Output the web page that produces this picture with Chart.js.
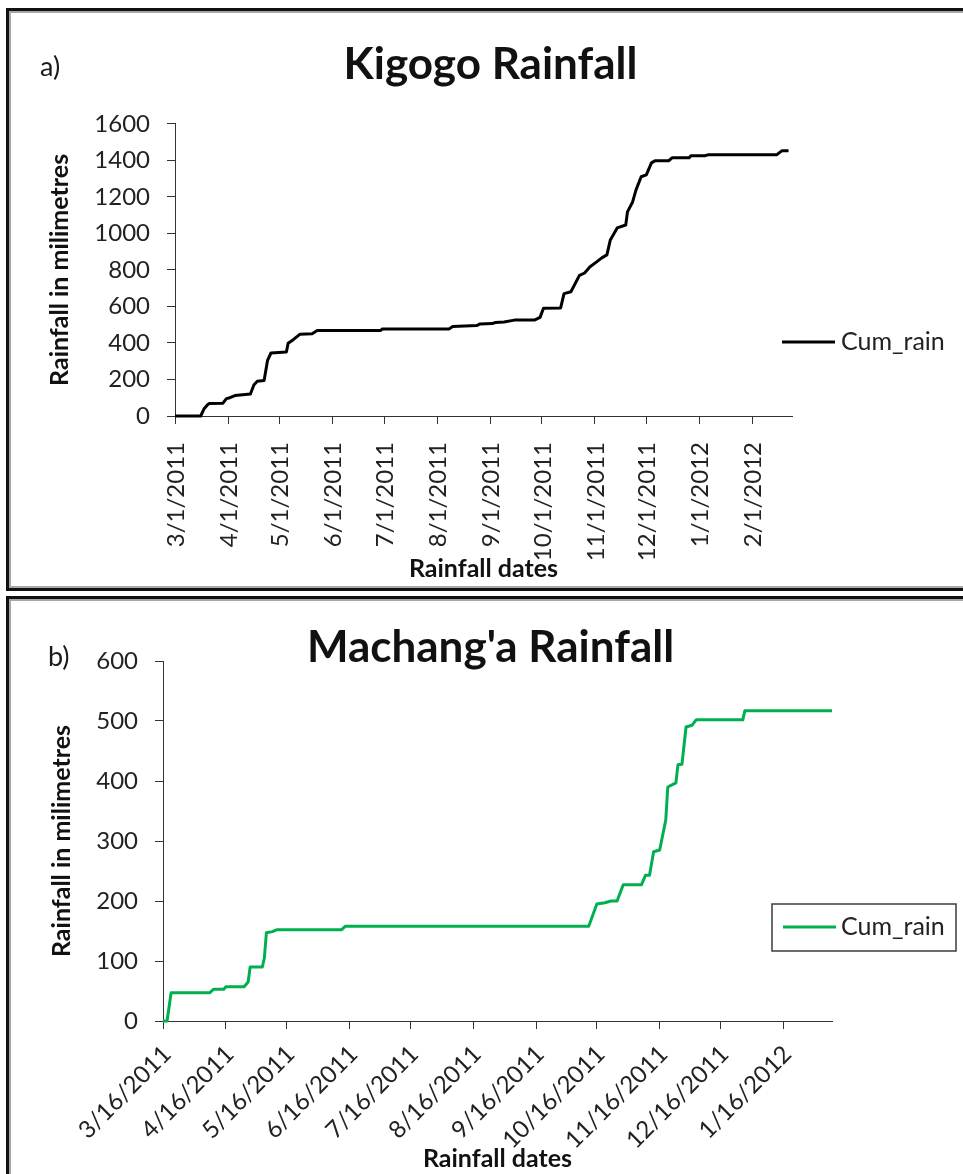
<!DOCTYPE html>
<html>
<head>
<meta charset="utf-8">
<script src="https://cdn.jsdelivr.net/npm/chart.js@4.4.1/dist/chart.umd.min.js"></script>
<style>
  html, body { margin: 0; padding: 0; background: #fff; overflow: hidden; width: 963px; height: 1174px; }
  .panel { position: absolute; left: 6px; width: 1000px; box-sizing: border-box;
           border: 3px solid #111; box-shadow: inset 0 0 0 2px #a8a8a8; background: #fff; }
  #panelA { top: 8px; height: 583px; }
  #panelB { top: 596px; height: 700px; }
  canvas { position: absolute; }
  #chartA { left: 12px; top: 14px; }
  #chartB { left: 12px; top: 603px; }
</style>
</head>
<body>
<div class="panel" id="panelA"></div>
<div class="panel" id="panelB"></div>
<canvas id="chartA" width="951" height="572"></canvas>
<canvas id="chartB" width="951" height="571"></canvas>
<script>
// ---- Kigogo station: cumulative rainfall, days counted from 3/1/2011 ----
const kigogoStart = '3/1/2011';
const kigogoEnd = '2/24/2012';
const kigogoDays = [0, 15, 17, 19, 20, 28, 30, 32, 35, 44, 46, 48, 52, 54, 56, 65, 66, 69, 73, 80,
  83, 120, 121, 160, 162, 176, 178, 185, 187, 192, 198, 210, 213, 215, 225, 227, 231, 236, 239, 242,
  246, 249, 252, 254, 258, 263, 264, 267, 269, 272, 275, 278, 280, 288, 290, 300, 301, 309, 311, 351,
  354, 358];
const kigogoRain = [0, 0, 40, 62, 68, 70, 95, 100, 112, 120, 170, 190, 195, 305, 345, 350, 398, 418, 448, 450,
  468, 468, 477, 477, 490, 495, 504, 506, 512, 515, 525, 526, 540, 590, 592, 670, 680, 770, 783, 816,
  844, 866, 882, 964, 1030, 1046, 1118, 1172, 1238, 1310, 1320, 1386, 1397, 1397, 1414, 1414, 1425, 1425, 1430, 1430,
  1452, 1452];
const kigogoTickLabels = ['3/1/2011', '4/1/2011', '5/1/2011', '6/1/2011', '7/1/2011', '8/1/2011',
  '9/1/2011', '10/1/2011', '11/1/2011', '12/1/2011', '1/1/2012', '2/1/2012'];
const kigogoYTicks = [0, 1600, 200];

// ---- Machang'a station: cumulative rainfall, days counted from 3/16/2011 ----
const machangaStart = '3/16/2011';
const machangaEnd = '2/9/2012';
const machangaDays = [0, 2, 4, 23, 25, 30, 31, 40, 42, 43, 49, 50, 51, 54, 56, 88, 90, 210, 214, 218,
  221, 224, 227, 236, 238, 240, 242, 245, 248, 249, 253, 254, 256, 258, 261, 263, 286, 287, 330];
const machangaRain = [0, 0, 47, 47, 53, 53, 57, 57, 65, 90, 90, 105, 147, 149, 152, 152, 158, 158, 195, 197,
  200, 200, 227, 227, 243, 243, 282, 285, 335, 390, 397, 427, 428, 490, 493, 502, 502, 517, 517];
const machangaTickLabels = ['3/16/2011', '4/16/2011', '5/16/2011', '6/16/2011', '7/16/2011', '8/16/2011',
  '9/16/2011', '10/16/2011', '11/16/2011', '12/16/2011', '1/16/2012'];
const machangaYTicks = [0, 600, 100];

const seriesName = 'Cum_rain';

function toUTC(label) {
  const [m, d, y] = label.split('/').map(Number);
  return Date.UTC(y, m - 1, d);
}
function daysBetween(start, label) {
  return Math.round((toUTC(label) - toUTC(start)) / 86400000);
}

Chart.defaults.font.family = 'Lato, "Open Sans", sans-serif';
Chart.defaults.color = '#222';

// Panel letter and a line-style legend sample
const panelDecor = {
  id: 'panelDecor',
  afterDraw(chart, args, o) {
    const ctx = chart.ctx;
    const ds = chart.data.datasets[0];
    ctx.save();
    ctx.fillStyle = '#1a1a1a';
    ctx.font = '27px Lato, sans-serif';
    ctx.textAlign = 'left';
    ctx.textBaseline = 'alphabetic';
    ctx.fillText(o.letter, o.letterX, o.letterY);
    if (o.box) {
      ctx.strokeStyle = '#3c3c3c';
      ctx.lineWidth = 1.5;
      ctx.strokeRect(o.box[0], o.box[1], o.box[2], o.box[3]);
    }
    ctx.strokeStyle = ds.borderColor;
    ctx.lineWidth = ds.borderWidth;
    ctx.beginPath();
    ctx.moveTo(o.lineX0, o.legendY);
    ctx.lineTo(o.lineX1, o.legendY);
    ctx.stroke();
    ctx.fillStyle = '#222';
    ctx.font = '25px Lato, sans-serif';
    ctx.textBaseline = 'middle';
    ctx.fillText(ds.label, o.textX, o.legendY);
    ctx.restore();
  }
};

function makeChart(id, s) {
  const tickDays = s.tickLabels.map(l => daysBetween(s.start, l));
  return new Chart(document.getElementById(id), {
    type: 'line',
    data: {
      datasets: [{
        label: seriesName,
        data: s.days.map((d, i) => ({ x: d, y: s.rain[i] })),
        borderColor: s.color,
        backgroundColor: s.color,
        borderWidth: 3,
        pointRadius: 0,
        tension: 0,
        fill: false,
        clip: 4,
        borderJoinStyle: 'round'
      }]
    },
    options: {
      responsive: false,
      animation: false,
      events: [],
      layout: { padding: { top: 0, left: 6, right: 0, bottom: 0 } },
      plugins: {
        legend: { display: false },
        tooltip: { enabled: false },
        title: {
          display: true,
          text: s.title,
          color: '#111',
          font: { size: 44, weight: 'bold', lineHeight: s.titleLineHeight },
          padding: s.titlePad
        },
        panelDecor: s.decor
      },
      scales: {
        x: {
          type: 'linear',
          min: 0,
          max: daysBetween(s.start, s.end),
          afterBuildTicks: sc => { sc.ticks = tickDays.map(v => ({ value: v })); },
          afterFit: sc => { sc.height = s.xHeight; },
          ticks: {
            autoSkip: false,
            minRotation: s.rotation,
            maxRotation: s.rotation,
            padding: s.xTickPad,
            labelOffset: s.xLabelShift,
            font: { size: 24 },
            color: '#222',
            callback: (v, i) => s.tickLabels[i]
          },
          grid: { drawOnChartArea: false, drawTicks: true, tickLength: 8, color: '#333', lineWidth: 1 },
          border: { display: true, color: '#333', width: 1 },
          title: {
            display: true,
            text: 'Rainfall dates',
            color: '#111',
            font: { size: 25, weight: 'bold' },
            padding: { top: 0, bottom: s.xTitlePad }
          }
        },
        y: {
          type: 'linear',
          min: s.yTicks[0],
          max: s.yTicks[1],
          afterFit: sc => { sc.width = s.yWidth; },
          ticks: { stepSize: s.yTicks[2], padding: 17, font: { size: 24 }, color: '#222',
                   callback: v => String(v) },
          grid: { drawOnChartArea: false, drawTicks: true, tickLength: 8, color: '#333', lineWidth: 1 },
          border: { display: true, color: '#333', width: 1 },
          title: {
            display: true,
            text: 'Rainfall in milimetres',
            color: '#111',
            font: { size: 25, weight: 'bold' },
            padding: { top: s.yTitlePad, bottom: 0 }
          }
        },
        // empty right-hand band that holds the legend column
        legendBand: {
          type: 'linear',
          position: 'right',
          display: true,
          afterFit: sc => { sc.width = s.rightBand; },
          ticks: { display: false },
          grid: { display: false },
          border: { display: false }
        }
      }
    },
    plugins: [panelDecor]
  });
}

makeChart('chartA', {
  start: kigogoStart, end: kigogoEnd, days: kigogoDays, rain: kigogoRain,
  tickLabels: kigogoTickLabels, yTicks: kigogoYTicks,
  color: '#000000', title: 'Kigogo Rainfall',
  titleLineHeight: 1.2, titlePad: { top: 24, bottom: 33 },
  rightBand: 171, xHeight: 170, yWidth: 157, rotation: 90, xTickPad: 18, xLabelShift: 1, xTitlePad: 2,
  yTitlePad: 27,
  decor: { letter: 'a)', letterX: 28, letterY: 62, legendY: 328, lineX0: 770, lineX1: 823, textX: 829 }
});

makeChart('chartB', {
  start: machangaStart, end: machangaEnd, days: machangaDays, rain: machangaRain,
  tickLabels: machangaTickLabels, yTicks: machangaYTicks,
  color: '#00b050', title: "Machang'a Rainfall",
  titleLineHeight: '24px', titlePad: { top: 33, bottom: 1 },
  rightBand: 131, xHeight: 153, yWidth: 145, rotation: 45, xTickPad: 11, xLabelShift: 4, xTitlePad: 0,
  yTitlePad: 29,
  decor: { letter: 'b)', letterX: 36, letterY: 63, legendY: 324, lineX0: 771, lineX1: 824, textX: 829,
           box: [760, 301, 184, 47] }
});
</script>
</body>
</html>
